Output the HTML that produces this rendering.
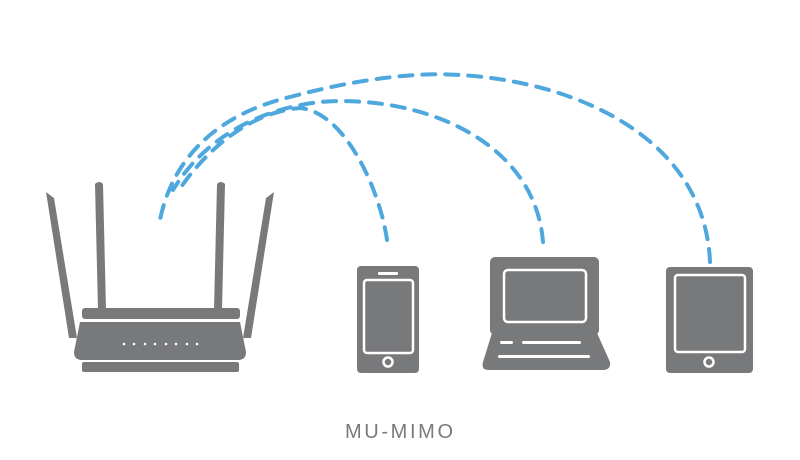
<!DOCTYPE html>
<html><head><meta charset="utf-8"><style>
html,body{margin:0;padding:0;background:#fff;}
svg{display:block;}
</style></head><body>
<svg width="800" height="460" viewBox="0 0 800 460" xmlns="http://www.w3.org/2000/svg">
<g fill="none" stroke="#4ea7dd" stroke-width="4" stroke-linecap="round" stroke-dasharray="13 10">
<path d="M387,240 C380,190 345,112 300,108 C250,112 205,150 177,193"/>
<path d="M543,242 C535,140 420,94 320,102 C250,110 200,145 173,190"/>
<path d="M710,262 C705,140 580,82 460,75 C420,72 360,78 290,97 C215,115 172,160 160,220"/>
</g>
<g fill="#78797b">
<polygon points="46,192 54,198 77,338 69,338"/>
<path d="M95,184 Q99,180 103,184 L106,310 L98,310 Z"/>
<path d="M217,184 Q221,180 225,184 L222,310 L214,310 Z"/>
<polygon points="274,192 266,198 243,338 251,338"/>
<rect x="82" y="308" width="158" height="11" rx="3"/>
<path d="M80,322 L240,322 L246,352 Q246,360 238,360 L82,360 Q74,360 74,352 Z"/>
<rect x="82" y="362" width="157" height="10" rx="2"/>
<rect x="357" y="266" width="62" height="107" rx="4"/>
<rect x="490" y="257" width="109" height="78" rx="5"/>
<path d="M492,333 L597,333 L610,362 Q611,370 603,370 L488,370 Q481,370 483,362 Z"/>
<rect x="666" y="267" width="87" height="106" rx="4"/>
</g>
<g fill="#fff">
<circle cx="124" cy="344" r="1.3"/><circle cx="134" cy="344" r="1.3"/><circle cx="145" cy="344" r="1.3"/><circle cx="155" cy="344" r="1.3"/><circle cx="166" cy="344" r="1.3"/><circle cx="176" cy="344" r="1.3"/><circle cx="187" cy="344" r="1.3"/><circle cx="197" cy="344" r="1.3"/>
<rect x="378" y="272" width="20" height="3" rx="1"/>
<rect x="500" y="341" width="13" height="3" rx="1.5"/>
<rect x="522" y="341" width="59" height="3" rx="1.5"/>
<rect x="498" y="355" width="92" height="3" rx="1.5"/>
</g>
<g fill="none" stroke="#fff" stroke-width="2.5">
<rect x="364" y="280" width="49" height="73" rx="3"/>
<circle cx="388" cy="362" r="4.5"/>
<rect x="504" y="270" width="82" height="52" rx="4"/>
<rect x="675" y="275" width="70" height="77" rx="3"/>
<circle cx="709" cy="362" r="4.5"/>
</g>
<text x="345" y="438" font-family="Liberation Sans, sans-serif" font-size="20" fill="#7a7a7a" textLength="108" lengthAdjust="spacing">MU-MIMO</text>
</svg>
</body></html>
